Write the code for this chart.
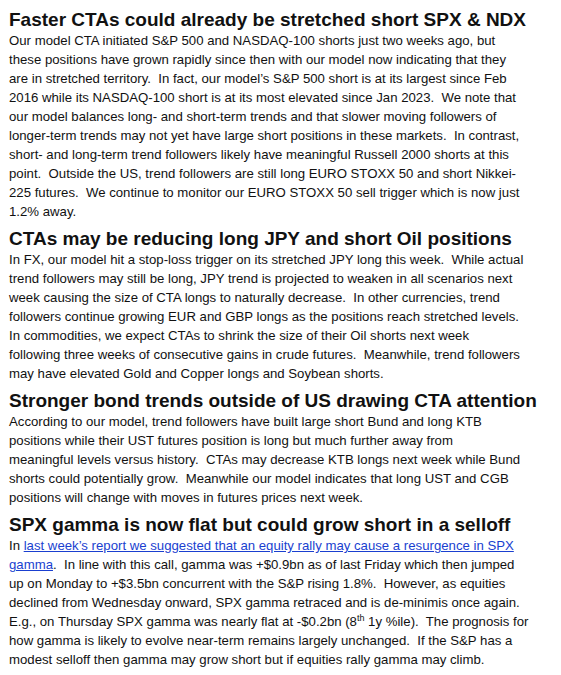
<!DOCTYPE html>
<html>
<head>
<meta charset="utf-8">
<script src="https://cdn.jsdelivr.net/npm/chart.js@4"></script>
<style>
  body { margin: 0; background: #fff; width: 561px; height: 675px; overflow: hidden;
         font-family: "Liberation Sans", Arial, sans-serif; color: #111; }
  .page { padding: 9px 0 0 9px; }
  h2 { font-size: 19px; font-weight: bold; margin: 0; line-height: 22px; white-space: nowrap; }
  p { font-size: 13.2px; line-height: 19px; margin: 0 0 2px 0; white-space: nowrap; }
  a { color: #1a3fd0; text-decoration: underline; }
</style>
</head>
<body>
<div class="page">
<h2>Faster CTAs could already be stretched short SPX &amp; NDX</h2>
<p>Our model CTA initiated S&amp;P 500 and NASDAQ-100 shorts just two weeks ago, but<br>
these positions have grown rapidly since then with our model now indicating that they<br>
are in stretched territory.&nbsp; In fact, our model’s S&amp;P 500 short is at its largest since Feb<br>
2016 while its NASDAQ-100 short is at its most elevated since Jan 2023.&nbsp; We note that<br>
our model balances long- and short-term trends and that slower moving followers of<br>
longer-term trends may not yet have large short positions in these markets.&nbsp; In contrast,<br>
short- and long-term trend followers likely have meaningful Russell 2000 shorts at this<br>
point.&nbsp; Outside the US, trend followers are still long EURO STOXX 50 and short Nikkei-<br>
225 futures.&nbsp; We continue to monitor our EURO STOXX 50 sell trigger which is now just<br>
1.2% away.</p>
<h2 style="margin-top:7px">CTAs may be reducing long JPY and short Oil positions</h2>
<p>In FX, our model hit a stop-loss trigger on its stretched JPY long this week.&nbsp; While actual<br>
trend followers may still be long, JPY trend is projected to weaken in all scenarios next<br>
week causing the size of CTA longs to naturally decrease.&nbsp; In other currencies, trend<br>
followers continue growing EUR and GBP longs as the positions reach stretched levels.<br>
In commodities, we expect CTAs to shrink the size of their Oil shorts next week<br>
following three weeks of consecutive gains in crude futures.&nbsp; Meanwhile, trend followers<br>
may have elevated Gold and Copper longs and Soybean shorts.</p>
<h2 style="margin-top:7px">Stronger bond trends outside of US drawing CTA attention</h2>
<p>According to our model, trend followers have built large short Bund and long KTB<br>
positions while their UST futures position is long but much further away from<br>
meaningful levels versus history.&nbsp; CTAs may decrease KTB longs next week while Bund<br>
shorts could potentially grow.&nbsp; Meanwhile our model indicates that long UST and CGB<br>
positions will change with moves in futures prices next week.</p>
<h2 style="margin-top:7px">SPX gamma is now flat but could grow short in a selloff</h2>
<p>In <a>last week’s report we suggested that an equity rally may cause a resurgence in SPX<br>
gamma</a>.&nbsp; In line with this call, gamma was +$0.9bn as of last Friday which then jumped<br>
up on Monday to +$3.5bn concurrent with the S&amp;P rising 1.8%.&nbsp; However, as equities<br>
declined from Wednesday onward, SPX gamma retraced and is de-minimis once again.<br>
E.g., on Thursday SPX gamma was nearly flat at -$0.2bn (8<sup style="font-size:9px;line-height:0">th</sup> 1y %ile).&nbsp; The prognosis for<br>
how gamma is likely to evolve near-term remains largely unchanged.&nbsp; If the S&amp;P has a<br>
modest selloff then gamma may grow short but if equities rally gamma may climb.</p>
</div>
</body>
</html>
